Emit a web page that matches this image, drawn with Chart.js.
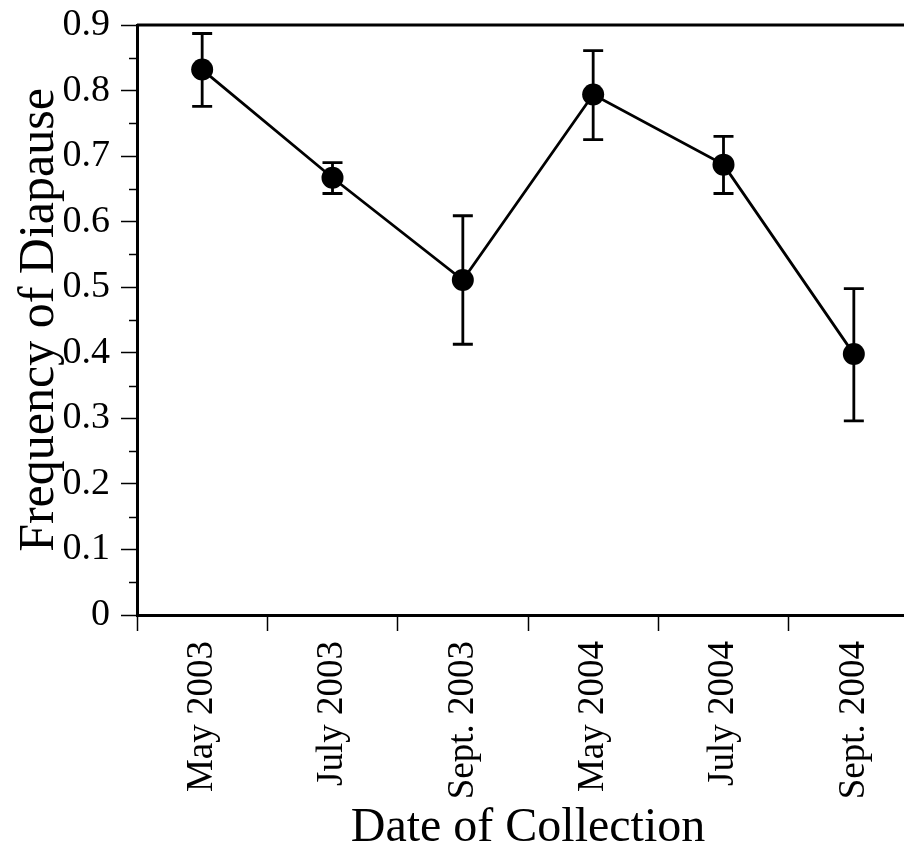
<!DOCTYPE html>
<html>
<head>
<meta charset="utf-8">
<script src="https://cdn.jsdelivr.net/npm/chart.js@4.4.1/dist/chart.umd.min.js"></script>
<style>
  html, body { margin: 0; padding: 0; background: #fff; overflow: hidden; }
  #wrap { width: 930px; height: 852px; position: relative; }
</style>
</head>
<body>
<div id="wrap"><canvas id="diapauseChart"></canvas></div>
<script>
// Dados
const dates = ['May 2003', 'July 2003', 'Sept. 2003', 'May 2004', 'July 2004', 'Sept. 2004'];
const freqDiapause = [0.832, 0.667, 0.511, 0.794, 0.687, 0.398];
const errUpper = [0.887, 0.690, 0.609, 0.861, 0.730, 0.498];
const errLower = [0.776, 0.643, 0.413, 0.725, 0.643, 0.296];
const yMajorTicks = [0, 0.1, 0.2, 0.3, 0.4, 0.5, 0.6, 0.7, 0.8, 0.9];

const FONT = '"Liberation Serif", "Times New Roman", serif';

// Barras de erro, ticks menores e linha de cima
const extrasPlugin = {
    id: 'extras',
    afterDatasetsDraw(chart) {
        const { ctx, chartArea } = chart;
        const x = chart.scales.x;
        const y = chart.scales.y;
        ctx.save();
        ctx.strokeStyle = '#000';
        ctx.lineWidth = 3;
        // linha superior
        ctx.beginPath();
        ctx.moveTo(chartArea.left, chartArea.top);
        ctx.lineTo(chartArea.right, chartArea.top);
        ctx.stroke();
        // ticks menores
        ctx.lineWidth = 1.5;
        for (let i = 0; i < yMajorTicks.length - 1; i++) {
            const v = (yMajorTicks[i] + yMajorTicks[i + 1]) / 2;
            const py = Math.round(y.getPixelForValue(v)) + 0.5;
            ctx.beginPath();
            ctx.moveTo(chartArea.left - 8, py);
            ctx.lineTo(chartArea.left, py);
            ctx.stroke();
        }
        // barras de erro
        ctx.lineWidth = 2.8;
        const cap = 10;
        dates.forEach((d, i) => {
            const px = x.getPixelForValue(i);
            const top = y.getPixelForValue(errUpper[i]);
            const bot = y.getPixelForValue(errLower[i]);
            ctx.beginPath();
            ctx.moveTo(px, top);
            ctx.lineTo(px, bot);
            ctx.moveTo(px - cap, top);
            ctx.lineTo(px + cap, top);
            ctx.moveTo(px - cap, bot);
            ctx.lineTo(px + cap, bot);
            ctx.stroke();
        });
        ctx.restore();
    }
};

const ctx = document.getElementById('diapauseChart').getContext('2d');
new Chart(ctx, {
    type: 'line',
    data: {
        labels: dates,
        datasets: [{
            data: freqDiapause,
            borderColor: '#000',
            borderWidth: 2.8,
            backgroundColor: '#000',
            pointRadius: 11,
            pointHoverRadius: 11,
            pointBackgroundColor: '#000',
            pointBorderWidth: 0,
            tension: 0
        }]
    },
    options: {
        responsive: true,
        maintainAspectRatio: false,
        animation: false,
        layout: { padding: { top: 25, right: 10, left: 0, bottom: 0 } },
        plugins: {
            legend: { display: false },
            tooltip: { enabled: false }
        },
        scales: {
            x: {
                type: 'category',
                offset: true,
                grid: {
                    offset: true,
                    drawOnChartArea: false,
                    tickLength: 16,
                    tickWidth: 1.5,
                    tickColor: '#000'
                },
                border: { display: true, color: '#000', width: 3 },
                ticks: {
                    color: '#000',
                    font: { family: FONT, size: 37 },
                    minRotation: 90,
                    maxRotation: 90,
                    padding: 10,
                    autoSkip: false
                },
                title: {
                    display: true,
                    text: 'Date of Collection',
                    color: '#000',
                    font: { family: FONT, size: 48, lineHeight: 1.0 },
                    padding: { top: 0, bottom: 0 }
                },
                afterFit(scale) {
                    scale.height = 237;
                    scale.paddingLeft = 0;
                    scale.paddingRight = 0;
                }
            },
            y: {
                min: 0,
                max: 0.9,
                afterBuildTicks(scale) {
                    scale.ticks = yMajorTicks.map(v => ({ value: v }));
                },
                grid: {
                    drawOnChartArea: false,
                    tickLength: 16,
                    tickWidth: 1.5,
                    tickColor: '#000'
                },
                border: { display: true, color: '#000', width: 3 },
                ticks: {
                    color: '#000',
                    font: { family: FONT, size: 38 },
                    padding: 11,
                    callback: (v) => v === 0 ? '0' : v.toFixed(1)
                },
                title: {
                    display: true,
                    text: 'Frequency of Diapause',
                    color: '#000',
                    font: { family: FONT, size: 50, lineHeight: 1.0 },
                    padding: { top: 15, bottom: 0 }
                },
                afterFit(scale) {
                    scale.width = 137;
                    scale.paddingTop = 0;
                    scale.paddingBottom = 0;
                }
            }
        }
    },
    plugins: [extrasPlugin]
});
</script>
</body>
</html>
